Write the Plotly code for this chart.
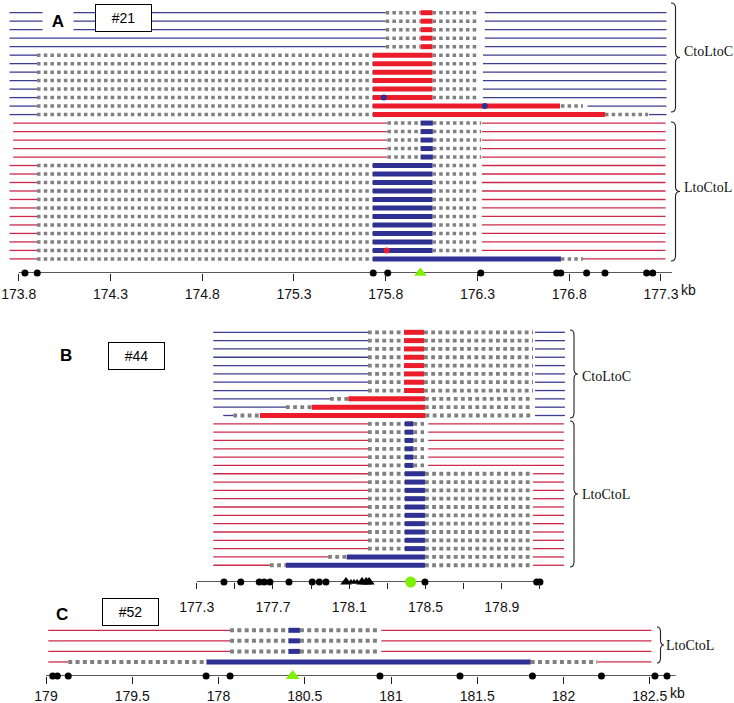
import plotly.graph_objects as go

W, H = 734, 703

# ---------------- data (kb positions) ----------------
# segment kinds: "L" thin line, "D" dotted (gray), "B" thick bar
# Panel A  (#21)
A_TICKS = [173.8, 174.3, 174.8, 175.3, 175.8, 176.3, 176.8, 177.3]
A_TICK_LABELS = ["173.8", "174.3", "174.8", "175.3", "175.8", "176.3", "176.8", "177.3"]
A_AXIS_EXTENT = [173.8, 177.36]
A_AXIS_DOTS = [173.834, 173.901, 175.732, 175.811, 176.318, 176.732, 176.754,
               176.895, 176.995, 177.222, 177.255]
A_GREEN_TRIANGLE = [175.989]

A_CLC_SHORT = [("L", 173.75, 175.80), ("D", 175.80, 175.99), ("B", 175.99, 176.055),
               ("D", 176.055, 176.30), ("L", 176.34, 177.33)]
A_CLC_LONG = [("L", 173.75, 173.90), ("D", 173.90, 175.73), ("B", 175.73, 176.055),
              ("D", 176.055, 176.31), ("L", 176.33, 177.33)]
A_CLC_R12 = [("L", 173.75, 173.90), ("D", 173.90, 175.73), ("B", 175.73, 176.75),
             ("D", 176.755, 176.875), ("L", 176.90, 177.33)]
A_CLC_R13 = [("L", 173.75, 173.90), ("D", 173.90, 175.73), ("B", 175.73, 176.995),
             ("D", 176.995, 177.23), ("L", 177.235, 177.33)]
A_CLC_COUNTS = [5, 6, 1, 1]
A_CLC_MARKS = [(10, 175.79), (11, 176.34)]          # (row in group, kb) blue dots

A_LCL_SHORT = [("L", 173.77, 175.81), ("D", 175.81, 175.99), ("B", 175.99, 176.057),
               ("D", 176.057, 176.32), ("L", 176.325, 177.325)]
A_LCL_LONG = [("L", 173.75, 173.90), ("D", 173.90, 175.73), ("B", 175.73, 176.055),
              ("D", 176.055, 176.31), ("L", 176.325, 177.325)]
A_LCL_LAST = [("L", 173.75, 173.90), ("D", 173.90, 175.73), ("B", 175.73, 176.755),
              ("D", 176.755, 176.875), ("L", 176.875, 177.325)]
A_LCL_COUNTS = [5, 11, 1]
A_LCL_MARKS = [(15, 175.805)]                         # red dot

# Panel B  (#44)
B_TICKS = [177.3, 177.5, 177.7, 177.9, 178.1, 178.3, 178.5, 178.7, 178.9, 179.1]
B_TICK_LABELS = ["177.3", "", "177.7", "", "178.1", "", "178.5", "", "178.9", ""]
B_AXIS_EXTENT = [177.3, 179.1]
B_AXIS_DOTS = [177.443, 177.531, 177.628, 177.654, 177.684, 177.784, 177.906,
               177.943, 177.978, 178.497, 179.083, 179.10]
B_BIG_TRIANGLES = [178.083, 178.167, 178.189, 178.204]
B_SMALL_TRIANGLES = [178.109, 178.125, 178.141]
B_GREEN_CIRCLE = [178.422]

B_CLC_MAIN = [("L", 177.387, 178.198), ("D", 178.198, 178.387), ("B", 178.387, 178.492),
              ("D", 178.492, 179.064), ("L", 179.074, 179.231)]
B_CLC_R9 = [("L", 177.387, 177.999), ("D", 177.999, 178.095), ("B", 178.095, 178.497),
            ("D", 178.497, 179.064), ("L", 179.074, 179.231)]
B_CLC_R10 = [("L", 177.387, 177.768), ("D", 177.768, 177.903), ("B", 177.903, 178.497),
             ("D", 178.497, 179.064), ("L", 179.074, 179.231)]
B_CLC_R11 = [("L", 177.439, 177.492), ("D", 177.492, 177.632), ("B", 177.632, 178.50),
             ("D", 178.50, 179.064), ("L", 179.074, 179.231)]
B_CLC_COUNTS = [8, 1, 1, 1]

B_LCL_SHORT = [("L", 177.387, 178.198), ("D", 178.198, 178.392), ("B", 178.392, 178.436),
               ("D", 178.436, 178.492), ("L", 178.514, 179.226)]
B_LCL_MAIN = [("L", 177.387, 178.198), ("D", 178.198, 178.392), ("B", 178.392, 178.497),
              ("D", 178.497, 179.064), ("L", 179.064, 179.226)]
B_LCL_R17 = [("L", 177.387, 177.989), ("D", 177.989, 178.087), ("B", 178.087, 178.497),
             ("D", 178.497, 179.064), ("L", 179.064, 179.226)]
B_LCL_R18 = [("L", 177.387, 177.684), ("D", 177.684, 177.768), ("B", 177.768, 178.497),
             ("D", 178.497, 179.064), ("L", 179.064, 179.226)]
B_LCL_COUNTS = [6, 10, 1, 1]

# Panel C  (#52)
C_TICKS = [179.0, 179.5, 180.0, 180.5, 181.0, 181.5, 182.0, 182.5]
C_TICK_LABELS = ["179", "179.5", "178", "180.5", "181", "181.5", "182", "182.5"]
C_AXIS_EXTENT = [179.0, 182.65]
C_AXIS_DOTS = [179.039, 179.066, 179.129, 179.928, 180.067, 180.936, 181.40,
               181.82, 182.22, 182.53, 182.60]
C_GREEN_TRIANGLE = [180.43]

C_LCL_SHORT = [("L", 179.013, 180.067), ("D", 180.067, 180.405), ("B", 180.405, 180.472),
               ("D", 180.472, 180.93), ("L", 180.944, 182.51)]
C_LCL_LONG = [("L", 179.013, 179.129), ("D", 179.129, 179.93), ("B", 179.93, 181.81),
              ("D", 181.81, 182.196), ("L", 182.196, 182.51)]
C_LCL_COUNTS = [3, 1]

# ---------------- styles ----------------
BLUE_LINE = "#3b3d8e"
RED_LINE = "#cc2a48"
RED_BAR = "#ec1c2a"
BLUE_BAR = "#2e3192"
GRAY = "#808080"
GREEN = "#7ef000"
TICK_FONT = dict(family="Liberation Sans, Arial", size=14, color="#111")
SERIF = dict(family="Liberation Serif, Times New Roman, serif", size=14, color="#111")


def px2kb(origin_px, origin_kb, px_per_kb):
    return lambda p: origin_kb + (p - origin_px) / px_per_kb


kbA = px2kb(18.7, 173.8, 183.5)
kbB = px2kb(196.7, 177.3, 190.7)
kbC = px2kb(46.0, 179.0, 172.5)

PX = lambda p: p / W
PY = lambda p: 1 - p / H

fig = go.Figure()


def expand(patterns, counts):
    rows = []
    for p, c in zip(patterns, counts):
        rows += [p] * c
    return rows


def add_rows(rows, first_row, xa, ya, line_color, bar_color, dot_w, dash):
    segs = {"L": ([], []), "D": ([], []), "B": ([], [])}
    for i, row in enumerate(rows):
        y = first_row + i
        for kind, s, e in row:
            xs, ys = segs[kind]
            xs += [s, e, None]
            ys += [y, y, None]
    fig.add_trace(go.Scatter(x=segs["L"][0], y=segs["L"][1], mode="lines", xaxis=xa, yaxis=ya,
                             line=dict(color=line_color, width=1.3), hoverinfo="skip"))
    fig.add_trace(go.Scatter(x=segs["D"][0], y=segs["D"][1], mode="lines", xaxis=xa, yaxis=ya,
                             line=dict(color=GRAY, width=dot_w, dash=dash), hoverinfo="skip"))
    fig.add_trace(go.Scatter(x=segs["B"][0], y=segs["B"][1], mode="lines", xaxis=xa, yaxis=ya,
                             line=dict(color=bar_color, width=5), hoverinfo="skip"))


def add_axis(extent, axis_row, dots, xa, ya):
    fig.add_trace(go.Scatter(x=extent, y=[axis_row, axis_row], mode="lines", xaxis=xa, yaxis=ya,
                             line=dict(color="#222", width=1.3), hoverinfo="skip", cliponaxis=False))
    fig.add_trace(go.Scatter(x=dots, y=[axis_row] * len(dots), mode="markers", xaxis=xa, yaxis=ya,
                             marker=dict(color="#000", size=7), cliponaxis=False, hoverinfo="skip"))


def add_marks(points, first_row, color, xa, ya):
    fig.add_trace(go.Scatter(x=[p[1] for p in points], y=[first_row + p[0] for p in points],
                             mode="markers", xaxis=xa, yaxis=ya,
                             marker=dict(color=color, size=6), hoverinfo="skip"))


# ---------- Panel A ----------
A_ROW0, A_STEP, A_AXIS_PX = 12.7, 8.49, 273.0
A_AXIS_ROW = (A_AXIS_PX - A_ROW0) / A_STEP
A_TOP_ROW = (0 - A_ROW0) / A_STEP
a_clc = expand([A_CLC_SHORT, A_CLC_LONG, A_CLC_R12, A_CLC_R13], A_CLC_COUNTS)
a_lcl = expand([A_LCL_SHORT, A_LCL_LONG, A_LCL_LAST], A_LCL_COUNTS)
add_rows(a_clc, 0, "x", "y", BLUE_LINE, RED_BAR, 3.5, "3.5px,3.2px")
add_rows(a_lcl, len(a_clc), "x", "y", RED_LINE, BLUE_BAR, 3.5, "3.5px,3.2px")
add_marks(A_CLC_MARKS, 0, BLUE_BAR, "x", "y")
add_marks(A_LCL_MARKS, len(a_clc), RED_BAR, "x", "y")
add_axis(A_AXIS_EXTENT, A_AXIS_ROW, A_AXIS_DOTS, "x", "y")
fig.add_trace(go.Scatter(x=A_GREEN_TRIANGLE, y=[A_AXIS_ROW], mode="markers", xaxis="x", yaxis="y",
                         marker=dict(symbol="triangle-up", color=GREEN, size=11),
                         cliponaxis=False, hoverinfo="skip"))

# ---------- Panel B ----------
B_ROW0, B_STEP, B_AXIS_PX, B_TOP_PX = 332.3, 8.32, 582.0, 320.0
B_AXIS_ROW = (B_AXIS_PX - B_ROW0) / B_STEP
B_TOP_ROW = (B_TOP_PX - B_ROW0) / B_STEP
b_clc = expand([B_CLC_MAIN, B_CLC_R9, B_CLC_R10, B_CLC_R11], B_CLC_COUNTS)
b_lcl = expand([B_LCL_SHORT, B_LCL_MAIN, B_LCL_R17, B_LCL_R18], B_LCL_COUNTS)
add_rows(b_clc, 0, "x2", "y2", BLUE_LINE, RED_BAR, 3.8, "3.8px,3.4px")
add_rows(b_lcl, len(b_clc), "x2", "y2", RED_LINE, BLUE_BAR, 3.8, "3.8px,3.4px")
add_axis(B_AXIS_EXTENT, B_AXIS_ROW, B_AXIS_DOTS, "x2", "y2")
fig.add_trace(go.Scatter(x=B_BIG_TRIANGLES, y=[B_AXIS_ROW] * len(B_BIG_TRIANGLES), mode="markers",
                         xaxis="x2", yaxis="y2", marker=dict(symbol="triangle-up", color="#000", size=10),
                         cliponaxis=False, hoverinfo="skip"))
fig.add_trace(go.Scatter(x=B_SMALL_TRIANGLES, y=[B_AXIS_ROW] * len(B_SMALL_TRIANGLES), mode="markers",
                         xaxis="x2", yaxis="y2", marker=dict(symbol="triangle-up", color="#000", size=6),
                         cliponaxis=False, hoverinfo="skip"))
fig.add_trace(go.Scatter(x=B_GREEN_CIRCLE, y=[B_AXIS_ROW], mode="markers", xaxis="x2", yaxis="y2",
                         marker=dict(color=GREEN, size=11), cliponaxis=False, hoverinfo="skip"))

# ---------- Panel C ----------
C_ROW0, C_STEP, C_AXIS_PX, C_TOP_PX = 630.3, 10.55, 676.0, 590.0
C_AXIS_ROW = (C_AXIS_PX - C_ROW0) / C_STEP
C_TOP_ROW = (C_TOP_PX - C_ROW0) / C_STEP
c_lcl = expand([C_LCL_SHORT, C_LCL_LONG], C_LCL_COUNTS)
add_rows(c_lcl, 0, "x3", "y3", RED_LINE, BLUE_BAR, 4.0, "4px,3.3px")
add_axis(C_AXIS_EXTENT, C_AXIS_ROW, C_AXIS_DOTS, "x3", "y3")
fig.add_trace(go.Scatter(x=C_GREEN_TRIANGLE, y=[C_AXIS_ROW], mode="markers", xaxis="x3", yaxis="y3",
                         marker=dict(symbol="triangle-up", color=GREEN, size=12),
                         cliponaxis=False, hoverinfo="skip"))


# ---------- axes ----------
def xaxis_cfg(kbf, ticks, labels, ticklen, standoff):
    return dict(domain=[0, 1], range=[kbf(0), kbf(W)], tickvals=ticks, ticktext=labels,
                ticks="outside", ticklen=ticklen, tickcolor="#222", tickwidth=1.2,
                showline=False, showgrid=False, zeroline=False, tickfont=TICK_FONT,
                ticklabelstandoff=standoff, ticklabeloverflow="allow", automargin=False,
                fixedrange=True)


def yaxis_cfg(px_top, px_bot, row_top, row_bot):
    return dict(domain=[PY(px_bot), PY(px_top)], range=[row_bot, row_top], visible=False,
                fixedrange=True)


fig.update_layout(
    width=W, height=H, margin=dict(l=0, r=0, t=0, b=0, autoexpand=False),
    paper_bgcolor="white", plot_bgcolor="rgba(0,0,0,0)", showlegend=False,
    xaxis=dict(**xaxis_cfg(kbA, A_TICKS, A_TICK_LABELS, 7, 1), anchor="y"),
    yaxis=dict(**yaxis_cfg(0, A_AXIS_PX, A_TOP_ROW, A_AXIS_ROW), anchor="x"),
    xaxis2=dict(**xaxis_cfg(kbB, B_TICKS, B_TICK_LABELS, 6, 6), anchor="y2"),
    yaxis2=dict(**yaxis_cfg(B_TOP_PX, B_AXIS_PX, B_TOP_ROW, B_AXIS_ROW), anchor="x2"),
    xaxis3=dict(**xaxis_cfg(kbC, C_TICKS, C_TICK_LABELS, 7, 0), anchor="y3"),
    yaxis3=dict(**yaxis_cfg(C_TOP_PX, C_AXIS_PX, C_TOP_ROW, C_AXIS_ROW), anchor="x3"),
)


# ---------- annotations: panel letters, sample boxes, kb, group labels ----------
def ann(text, x, y, font, xanchor="center", **kw):
    fig.add_annotation(text=text, x=PX(x), y=PY(y), xref="paper", yref="paper",
                       showarrow=False, font=font, xanchor=xanchor, yanchor="middle", **kw)


BOLD = dict(family="Liberation Sans, Arial", size=17, color="#000")
BOX_FONT = dict(family="Liberation Sans, Arial", size=14, color="#000")
ann("<b>A</b>", 58, 21, BOLD, bgcolor="white", width=26, height=22, borderpad=2)
ann("<b>B</b>", 66, 355, BOLD)
ann("<b>C</b>", 62, 614, BOLD)
for label, cx, cy in [("#21", 123.5, 17.5), ("#44", 136, 355.5), ("#52", 130, 612)]:
    ann(label, cx, cy, BOX_FONT, bgcolor="white", bordercolor="#000", borderwidth=1,
        width=55, height=26, borderpad=0)

fig.add_annotation(text="kb", x=177.3, y=PY(290), xref="x", yref="paper", showarrow=False,
                   font=TICK_FONT, xanchor="left", yanchor="middle", xshift=18)
fig.add_annotation(text="kb", x=182.5, y=PY(693), xref="x3", yref="paper", showarrow=False,
                   font=TICK_FONT, xanchor="left", yanchor="middle", xshift=18)

for text, x, y in [("CtoLtoC", 682, 51), ("LtoCtoL", 682, 187), ("CtoLtoC", 580, 376),
                   ("LtoCtoL", 580, 494), ("LtoCtoL", 664, 645)]:
    ann(text, x, y, SERIF, xanchor="left")


def brace(x0, yt, yb, w):
    xm, xt, ym, r = x0 + w * 0.5, x0 + w, (yt + yb) / 2, 5
    pts = [("M", [(x0, yt)]), ("Q", [(xm, yt), (xm, yt + r)]), ("L", [(xm, ym - r)]),
           ("Q", [(xm, ym), (xt, ym)]), ("Q", [(xm, ym), (xm, ym + r)]), ("L", [(xm, yb - r)]),
           ("Q", [(xm, yb), (x0, yb)])]
    path = " ".join(c + " " + " ".join(f"{PX(a):.5f},{PY(b):.5f}" for a, b in p) for c, p in pts)
    fig.add_shape(type="path", path=path, xref="paper", yref="paper",
                  line=dict(color="#222", width=1.1))


brace(671, 3, 112, 9)
brace(671, 122, 261, 9)
brace(570, 330, 418, 8)
brace(570, 421, 567, 8)
brace(657, 627, 663, 7)

fig.write_html("out.html", config={"displayModeBar": False},
               post_script="document.body.style.margin='0px';document.body.style.padding='0px';")
